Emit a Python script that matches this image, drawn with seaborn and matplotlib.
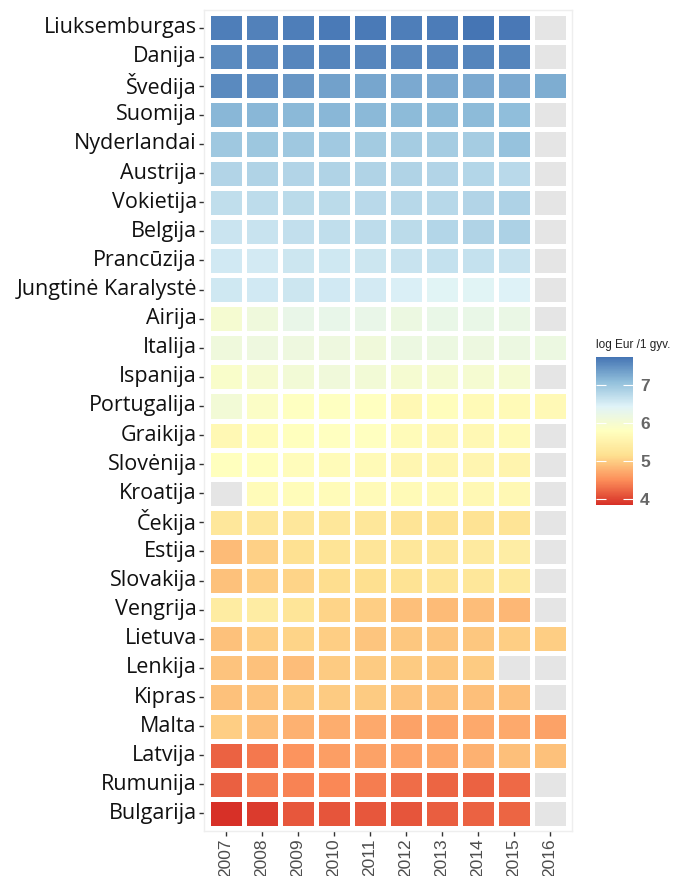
import numpy as np
import pandas as pd
import matplotlib
matplotlib.use("Agg")
import matplotlib.pyplot as plt
from matplotlib.colors import LinearSegmentedColormap, ListedColormap
import seaborn as sns

countries = [
    "Liuksemburgas", "Danija", "Švedija", "Suomija", "Nyderlandai", "Austrija",
    "Vokietija", "Belgija", "Prancūzija", "Jungtinė Karalystė", "Airija", "Italija",
    "Ispanija", "Portugalija", "Graikija", "Slovėnija", "Kroatija", "Čekija",
    "Estija", "Slovakija", "Vengrija", "Lietuva", "Lenkija", "Kipras", "Malta",
    "Latvija", "Rumunija", "Bulgarija",
]
years = ["2007", "2008", "2009", "2010", "2011", "2012", "2013", "2014", "2015", "2016"]

nan = np.nan
liuksemburgas = [7.66, 7.63, 7.66, 7.68, 7.68, 7.66, 7.67, 7.74, 7.70, nan]
danija        = [7.55, 7.56, 7.58, 7.60, 7.58, 7.57, 7.58, 7.59, 7.60, nan]
svedija       = [7.55, 7.50, 7.45, 7.35, 7.30, 7.28, 7.28, 7.27, 7.28, 7.25]
suomija       = [7.15, 7.15, 7.14, 7.15, 7.14, 7.13, 7.13, 7.12, 7.10, nan]
nyderlandai   = [6.97, 6.98, 6.97, 6.96, 6.94, 6.93, 6.93, 6.92, 7.05, nan]
austrija      = [6.82, 6.83, 6.82, 6.84, 6.84, 6.83, 6.82, 6.80, 6.76, nan]
vokietija     = [6.70, 6.73, 6.74, 6.74, 6.76, 6.77, 6.78, 6.82, 6.85, nan]
belgija       = [6.62, 6.64, 6.68, 6.70, 6.72, 6.74, 6.80, 6.83, 6.86, nan]
prancuzija    = [6.56, 6.55, 6.60, 6.58, 6.60, 6.64, 6.66, 6.66, 6.64, nan]
jungtine_k    = [6.58, 6.56, 6.60, 6.56, 6.55, 6.48, 6.40, 6.41, 6.45, nan]
airija        = [6.00, 6.12, 6.25, 6.27, 6.25, 6.18, 6.24, 6.24, 6.22, nan]
italija       = [6.12, 6.15, 6.15, 6.15, 6.10, 6.18, 6.18, 6.16, 6.18, 6.18]
ispanija      = [5.92, 5.98, 6.05, 6.10, 6.05, 6.00, 6.00, 6.00, 6.00, nan]
portugalija   = [6.05, 5.88, 5.82, 5.82, 5.80, 5.65, 5.75, 5.68, 5.68, 5.66]
graikija      = [5.65, 5.72, 5.78, 5.80, 5.80, 5.70, 5.65, 5.65, 5.68, nan]
slovenija     = [5.78, 5.76, 5.74, 5.70, 5.68, 5.60, 5.60, 5.58, 5.56, nan]
kroatija      = [nan, 5.70, 5.72, 5.70, 5.69, 5.68, 5.66, 5.64, 5.64, nan]
cekija        = [5.30, 5.30, 5.30, 5.28, 5.28, 5.22, 5.20, 5.20, 5.22, nan]
estija        = [4.85, 5.02, 5.18, 5.22, 5.25, 5.28, 5.30, 5.35, 5.42, nan]
slovakija     = [4.90, 5.00, 5.05, 5.12, 5.15, 5.20, 5.25, 5.28, 5.32, nan]
vengrija      = [5.38, 5.40, 5.25, 5.05, 5.00, 4.88, 4.85, 4.87, 4.82, nan]
lietuva       = [4.90, 5.00, 5.05, 5.00, 4.93, 4.95, 4.93, 4.95, 5.00, 5.00]
lenkija       = [4.92, 4.90, 4.87, 4.97, 4.97, 4.97, 4.95, 4.98, nan, nan]
kipras        = [4.90, 4.92, 4.96, 4.98, 4.97, 4.92, 4.90, 4.88, 4.88, nan]
malta         = [5.00, 4.88, 4.78, 4.75, 4.72, 4.65, 4.68, 4.72, 4.72, 4.66]
latvija       = [4.20, 4.35, 4.55, 4.62, 4.65, 4.67, 4.70, 4.78, 4.88, 4.90]
rumunija      = [4.18, 4.38, 4.42, 4.45, 4.38, 4.28, 4.22, 4.20, 4.25, nan]
bulgarija     = [3.84, 3.92, 4.12, 4.10, 4.12, 4.10, 4.16, 4.20, 4.22, nan]

rows = [liuksemburgas, danija, svedija, suomija, nyderlandai, austrija, vokietija,
        belgija, prancuzija, jungtine_k, airija, italija, ispanija, portugalija,
        graikija, slovenija, kroatija, cekija, estija, slovakija, vengrija, lietuva,
        lenkija, kipras, malta, latvija, rumunija, bulgarija]

df = pd.DataFrame(rows, index=countries, columns=years)
vmin, vmax = np.nanmin(df.values), np.nanmax(df.values)

palette = ["#d73027", "#fc8d59", "#fee090", "#ffffbf", "#e0f3f8", "#91bfdb", "#4575b4"]
cmap = LinearSegmentedColormap.from_list("rdylbu7", palette)

W, H = 691, 876
fig = plt.figure(figsize=(W / 100, H / 100), dpi=100)

# panel in pixel coordinates (tiles plus a small discrete-scale margin)
px_l, px_r, px_t, px_b = 204.4, 571.6, 10.1, 830.9
ax = fig.add_axes([px_l / W, 1 - px_b / H, (px_r - px_l) / W, (px_b - px_t) / H])
cax = fig.add_axes([596 / W, 1 - 505 / H, 37 / W, (505 - 357) / H])

# missing cells as grey tiles
na_layer = df.isna().astype(float).where(df.isna())
sns.heatmap(na_layer, ax=ax, cmap=ListedColormap(["#e5e5e5"]), cbar=False,
            linewidths=2.2, linecolor="white")
sns.heatmap(df, ax=ax, cmap=cmap, vmin=vmin, vmax=vmax, cbar_ax=cax,
            linewidths=2.2, linecolor="white")

ax.set_xlim(-0.1, len(years) + 0.1)
ax.set_ylim(len(countries) + 0.1, -0.1)
ax.set_facecolor("white")
for s in ax.spines.values():
    s.set_visible(True)
    s.set_color("#eeeeee")
    s.set_linewidth(1.0)
ax.set_xlabel("")
ax.set_ylabel("")

ax.set_yticks(np.arange(len(countries)) + 0.5)
ax.set_yticklabels(countries, fontfamily="Open Sans", fontsize=15.5, color="#111111")
ax.set_xticks(np.arange(len(years)) + 0.5)
ax.set_xticklabels(years, rotation=90, fontfamily="Liberation Sans", fontsize=12.5,
                   color="#4d4d4d")
ax.tick_params(axis="both", length=3.5, width=1, color="#333333", pad=2)

# colour bar styled with inner white ticks
cb = ax.collections[-1].colorbar
cb.outline.set_visible(False)
cb.set_ticks([4, 5, 6, 7])
cax.tick_params(axis="y", direction="in", length=7, width=0.8, color="white",
                left=True, right=True, labelleft=False, labelright=True, pad=5)
for t in cax.get_yticklabels():
    t.set_fontfamily("Liberation Sans")
    t.set_fontsize(12.5)
    t.set_fontweight("bold")
    t.set_color("#666666")
fig.text(596 / W, 1 - 345 / H, "log Eur /1 gyv.", fontfamily="Liberation Sans",
         fontsize=8.5, color="#222222", va="center", ha="left")

fig.savefig("out.png", dpi=100)
